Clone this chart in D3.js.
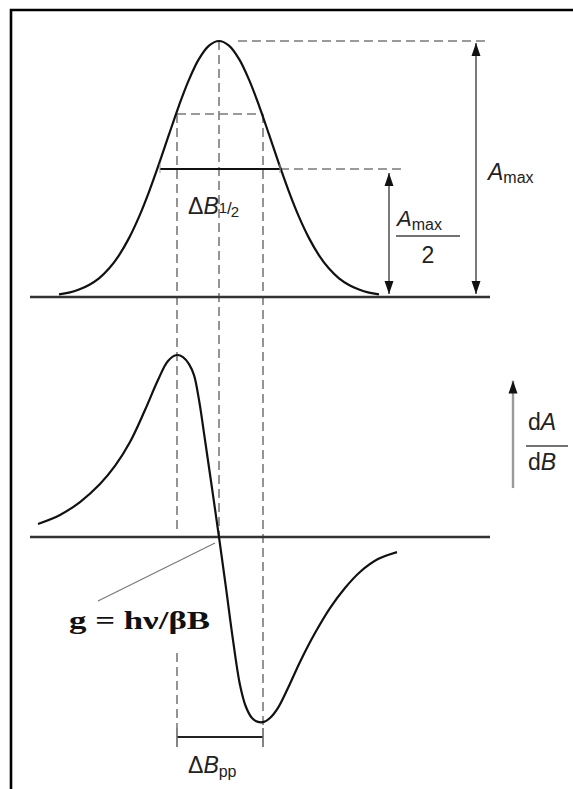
<!DOCTYPE html>
<html>
<head>
<meta charset="utf-8">
<script src="https://cdn.jsdelivr.net/npm/d3@7"></script>
<style>
  html, body { margin: 0; padding: 0; background: #fff; }
  svg { display: block; }
</style>
</head>
<body>
<script>
// Absorption line A(B) (upper trace), relative field units, centred on resonance
const absorptionField = [-16,-15,-14,-13,-12,-11,-10,-9,-8,-7,-6,-5,-4,-3,-2,-1,0,1,2,3,4,5,6,7,8,9,10,11,12,13,14,15,16];
const absorptionAmp = [0.010,0.017,0.029,0.047,0.073,0.111,0.163,0.230,0.313,0.411,0.520,0.635,0.748,0.849,0.930,0.982,1.000,0.982,0.930,0.849,0.748,0.635,0.520,0.411,0.313,0.230,0.163,0.111,0.073,0.047,0.029,0.017,0.010];

// First-derivative trace dA/dB (lower trace), normalised to the peak-to-peak extremes
const derivativeField = [-18.1,-15.9,-13.9,-11.9,-10.4,-8.9,-7.4,-6.1,-5.1,-4.2,-3.6,-3.0,-2.5,-2.0,-1.4,-0.7,0,0.7,1.4,2.1,2.7,3.3,3.9,4.5,5.1,5.9,6.9,8.1,9.6,11.1,12.6,14.1,15.9,17.8];
const derivativeAmp = [0.071,0.120,0.190,0.288,0.386,0.516,0.690,0.853,0.957,0.989,0.978,0.940,0.880,0.745,0.527,0.266,0,-0.277,-0.560,-0.804,-0.924,-0.984,-1.005,-1.005,-0.984,-0.929,-0.821,-0.679,-0.522,-0.386,-0.277,-0.190,-0.120,-0.082];

// Characteristic field positions and levels
const peakPositions = [-4.2, 4.4];      // derivative extrema (ΔBpp)
const halfMaxEdges = [-5.9, 6.1];       // full width at half maximum (ΔB1/2)
const peakLevel = 1.0;                  // A_max
const halfLevel = 0.5;                  // A_max / 2
const extremaLevel = 0.715;             // absorption height at the derivative extrema

const W = 573, H = 789;
const svg = d3.select("body").append("svg").attr("width", W).attr("height", H);

const x = d3.scaleLinear().domain([-18.9, 27.1]).range([30, 490]);
const yTop = d3.scaleLinear().domain([0, 1]).range([297, 41]);
const yBot = d3.scaleLinear().domain([-1, 1]).range([721, 353]);

const ink = "#111";
const dashGrey = "#7a7a7a";
const dash = "9,5";

// arrowheads
const defs = svg.append("defs");
defs.append("marker").attr("id", "ah")
  .attr("viewBox", "0 -5 13 10").attr("refX", 13).attr("refY", 0)
  .attr("markerWidth", 13).attr("markerHeight", 10)
  .attr("markerUnits", "userSpaceOnUse").attr("orient", "auto-start-reverse")
  .append("path").attr("d", "M0,-4.5L13,0L0,4.5Z").attr("fill", "#111");

// frame (top and left edges)
svg.append("path").attr("d", `M11,${H} L11,10 L${W},10`)
  .attr("fill", "none").attr("stroke", "#000").attr("stroke-width", 2.6);

// dashed construction lines
const dashed = svg.append("g").attr("stroke", dashGrey).attr("stroke-width", 1.6)
  .attr("stroke-dasharray", dash).attr("fill", "none");
// centre line from absorption maximum down to the derivative zero crossing
dashed.append("line").attr("x1", x(0)).attr("x2", x(0)).attr("y1", yTop(peakLevel)).attr("y2", yBot(0));
// A_max level
dashed.append("line").attr("x1", x(1.9)).attr("x2", x(26.8)).attr("y1", yTop(peakLevel)).attr("y2", yTop(peakLevel));
// A_max/2 level
dashed.append("line").attr("x1", x(halfMaxEdges[1])).attr("x2", x(18.6)).attr("y1", yTop(halfLevel)).attr("y2", yTop(halfLevel));
// level joining the derivative extrema positions on the absorption line
dashed.append("line").attr("x1", x(peakPositions[0])).attr("x2", x(peakPositions[1]))
  .attr("y1", yTop(extremaLevel)).attr("y2", yTop(extremaLevel));
// left extremum line (interrupted by the g-value label)
dashed.append("line").attr("x1", x(peakPositions[0])).attr("x2", x(peakPositions[0]))
  .attr("y1", yTop(extremaLevel)).attr("y2", yBot(0.04));
dashed.append("line").attr("x1", x(peakPositions[0])).attr("x2", x(peakPositions[0]))
  .attr("y1", yBot(-0.63)).attr("y2", yBot(-1.04));
// right extremum line
dashed.append("line").attr("x1", x(peakPositions[1])).attr("x2", x(peakPositions[1]))
  .attr("y1", yTop(extremaLevel)).attr("y2", yBot(-1.04));

// baselines
const baseline = svg.append("g").attr("stroke", "#333").attr("stroke-width", 2.6);
baseline.append("line").attr("x1", x(-18.9)).attr("x2", x(27.1)).attr("y1", yTop(0)).attr("y2", yTop(0));
baseline.append("line").attr("x1", x(-18.9)).attr("x2", x(27.1)).attr("y1", yBot(0)).attr("y2", yBot(0));

// absorption curve
const absLine = d3.line().x(d => x(d[0])).y(d => yTop(d[1])).curve(d3.curveCatmullRom.alpha(0.5));
svg.append("path").datum(d3.zip(absorptionField, absorptionAmp)).attr("d", absLine)
  .attr("fill", "none").attr("stroke", ink).attr("stroke-width", 2.2);

// derivative curve
const derLine = d3.line().x(d => x(d[0])).y(d => yBot(d[1])).curve(d3.curveCatmullRom.alpha(0.5));
svg.append("path").datum(d3.zip(derivativeField, derivativeAmp)).attr("d", derLine)
  .attr("fill", "none").attr("stroke", ink).attr("stroke-width", 2.2);

// half-maximum width bar
svg.append("line").attr("x1", x(halfMaxEdges[0])).attr("x2", x(halfMaxEdges[1]))
  .attr("y1", yTop(halfLevel)).attr("y2", yTop(halfLevel)).attr("stroke", ink).attr("stroke-width", 2.2);
halfMaxEdges.forEach(b => {
  svg.append("line").attr("x1", x(b)).attr("x2", x(b))
    .attr("y1", yTop(halfLevel) - 5).attr("y2", yTop(halfLevel) + 4)
    .attr("stroke", "#999").attr("stroke-width", 1);
});

// peak-to-peak width bar
const ppY = yBot(-1.087);
svg.append("line").attr("x1", x(peakPositions[0])).attr("x2", x(peakPositions[1]))
  .attr("y1", ppY).attr("y2", ppY).attr("stroke", "#222").attr("stroke-width", 2.2);
peakPositions.forEach(b => {
  svg.append("line").attr("x1", x(b)).attr("x2", x(b)).attr("y1", ppY - 9).attr("y2", ppY + 10)
    .attr("stroke", "#666").attr("stroke-width", 1.6);
});

// A_max and A_max/2 double arrows
svg.append("line").attr("x1", x(25.7)).attr("x2", x(25.7))
  .attr("y1", yTop(peakLevel) + 2).attr("y2", yTop(0) - 3)
  .attr("stroke", "#222").attr("stroke-width", 1.2)
  .attr("marker-start", "url(#ah)").attr("marker-end", "url(#ah)");
svg.append("line").attr("x1", x(17.0)).attr("x2", x(17.0))
  .attr("y1", yTop(halfLevel) + 4).attr("y2", yTop(0) - 3)
  .attr("stroke", "#222").attr("stroke-width", 1.2)
  .attr("marker-start", "url(#ah)").attr("marker-end", "url(#ah)");

// dA/dB direction arrow
svg.append("line").attr("x1", x(29.4)).attr("x2", x(29.4))
  .attr("y1", yBot(0.266)).attr("y2", yBot(0.85))
  .attr("stroke", "#999").attr("stroke-width", 2.4).attr("marker-end", "url(#ah)");

// leader from the zero crossing to the g-value label
svg.append("line").attr("x1", x(-0.4)).attr("y1", yBot(-0.033))
  .attr("x2", x(-12.1)).attr("y2", yBot(-0.348))
  .attr("stroke", "#777").attr("stroke-width", 1.1);

// labels
const sans = "'Liberation Sans', Arial, Helvetica, sans-serif";
const textCol = "#222";

function label(px, py, parts, size) {
  const t = svg.append("text").attr("x", px).attr("y", py)
    .attr("font-family", sans).attr("font-size", size).attr("fill", textCol);
  parts.forEach(p => {
    const s = t.append("tspan").text(p.t);
    if (p.italic) s.attr("font-style", "italic");
    if (p.size) s.attr("font-size", p.size);
    if (p.dy) s.attr("dy", p.dy);
    if (p.ls) s.attr("letter-spacing", p.ls);
  });
  return t;
}

label(488, 180, [{t: "A", italic: true}, {t: "max", size: 16, dy: 3}], 23);
label(397, 226, [{t: "A", italic: true}, {t: "max", size: 16, dy: 4}], 22);
svg.append("line").attr("x1", 396).attr("x2", 460).attr("y1", 236).attr("y2", 236)
  .attr("stroke", "#444").attr("stroke-width", 1.4);
label(428, 263, [{t: "2"}], 23).attr("text-anchor", "middle");

label(188, 214, [{t: "Δ"}, {t: "B", italic: true}, {t: "1", size: 15, dy: -1}, {t: "/", size: 17, dy: 1, ls: -1}, {t: "2", size: 15, dy: 3}], 23);
label(188, 773, [{t: "Δ"}, {t: "B", italic: true}, {t: "pp", size: 16, dy: 4}], 23);

label(528, 430, [{t: "d"}, {t: "A", italic: true}], 23);
svg.append("line").attr("x1", 526).attr("x2", 568).attr("y1", 446).attr("y2", 446)
  .attr("stroke", "#444").attr("stroke-width", 1.4);
label(528, 470, [{t: "d"}, {t: "B", italic: true}], 23);

svg.append("text").attr("x", 69).attr("y", 629)
  .attr("font-family", "'Liberation Serif', 'Times New Roman', serif")
  .attr("font-weight", "bold").attr("font-size", 26).attr("fill", "#111")
  .attr("textLength", 141).attr("lengthAdjust", "spacingAndGlyphs")
  .text("g = hν/βB");
</script>
</body>
</html>
